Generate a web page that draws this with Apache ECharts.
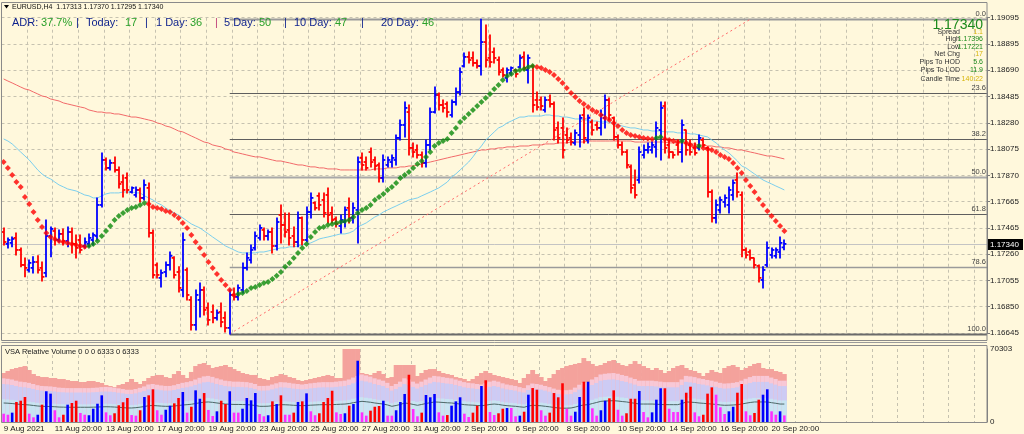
<!DOCTYPE html>
<html><head><meta charset="utf-8">
<script src="https://cdn.jsdelivr.net/npm/echarts@6.0.0/dist/echarts.min.js"></script>
<style>html,body{margin:0;padding:0;background:#FFF8DC;}#c{width:1024px;height:434px;}</style>
</head><body><div id="c"></div>
<script>
// ---------------- DATA ----------------
const xTickLabels = ['9 Aug 2021','11 Aug 20:00','13 Aug 20:00','17 Aug 20:00','19 Aug 20:00','23 Aug 20:00','25 Aug 20:00','27 Aug 20:00','31 Aug 20:00','2 Sep 20:00','6 Sep 20:00','8 Sep 20:00','10 Sep 20:00','14 Sep 20:00','16 Sep 20:00','20 Sep 20:00'];
const yTickLabels = ['1.16645','1.16850','1.17055','1.17260','1.17465','1.17665','1.17870','1.18075','1.18280','1.18485','1.18690','1.18895','1.19095'];

const opens = [
1.17433,1.17340,1.17348,1.17387,1.17293,1.17176,1.17137,1.17153,1.17199,1.17153,
1.17114,1.17402,1.17441,1.17371,1.17418,1.17363,1.17433,1.17340,1.17371,1.17324,
1.17340,1.17371,1.17402,1.17644,1.17995,1.17933,1.17972,1.17917,1.17823,1.17855,
1.17745,1.17722,1.17761,1.17699,1.17777,1.17426,1.17176,1.17075,1.17121,1.17176,
1.17231,1.17121,1.16981,1.17137,1.16903,1.16708,1.16903,1.16981,1.16841,1.16809,
1.16763,1.16809,1.16763,1.16685,1.16942,1.16927,1.16981,1.17153,1.17215,1.17309,
1.17387,1.17449,1.17402,1.17433,1.17324,1.17566,1.17488,1.17449,1.17402,1.17355,
1.17543,1.17371,1.17589,1.17660,1.17715,1.17683,1.17722,1.17582,1.17535,1.17480,
1.17511,1.17621,1.17543,1.17605,1.18011,1.17979,1.18057,1.17995,1.17956,1.17855,
1.17956,1.17979,1.17995,1.18167,1.18268,1.18369,1.18089,1.18073,1.18034,1.17972,
1.18112,1.18369,1.18502,1.18424,1.18432,1.18346,1.18447,1.18525,1.18728,1.18799,
1.18791,1.18752,1.18728,1.18915,1.18791,1.18837,1.18775,1.18697,1.18635,1.18674,
1.18697,1.18720,1.18799,1.18697,1.18728,1.18463,1.18463,1.18385,1.18463,1.18432,
1.18245,1.18245,1.18190,1.18167,1.18128,1.18190,1.18346,1.18151,1.18291,1.18268,
1.18245,1.18323,1.18463,1.18323,1.18175,1.18112,1.18057,1.17941,1.17800,1.17839,
1.18034,1.18073,1.18073,1.18097,1.18229,1.18416,1.18112,1.18057,1.18112,1.18057,
1.18229,1.18112,1.18089,1.18089,1.18151,1.18089,1.17745,1.17543,1.17605,1.17667,
1.17644,1.17722,1.17839,1.17722,1.17293,1.17277,1.17231,1.17168,1.17059,1.17176,
1.17254,1.17247,1.17277,1.17313];
const highs = [
1.17465,1.17387,1.17394,1.17426,1.17309,1.17231,1.17215,1.17239,1.17247,1.17199,
1.17527,1.17472,1.17465,1.17449,1.17457,1.17472,1.17465,1.17410,1.17410,1.17387,
1.17418,1.17426,1.17699,1.18050,1.18011,1.17995,1.18019,1.17941,1.17878,1.17894,
1.17785,1.17785,1.17777,1.17839,1.17816,1.17449,1.17192,1.17137,1.17199,1.17277,
1.17239,1.17161,1.17426,1.17153,1.16927,1.16981,1.17036,1.17004,1.16880,1.16864,
1.16825,1.16880,1.16809,1.16981,1.16997,1.17020,1.17192,1.17270,1.17332,1.17433,
1.17488,1.17465,1.17449,1.17465,1.17543,1.17644,1.17582,1.17582,1.17472,1.17589,
1.17550,1.17629,1.17738,1.17667,1.17738,1.17738,1.17777,1.17629,1.17550,1.17566,
1.17629,1.17699,1.17660,1.18019,1.18050,1.18019,1.18089,1.18019,1.17972,1.18034,
1.18019,1.18034,1.18190,1.18307,1.18447,1.18424,1.18128,1.18112,1.18057,1.18151,
1.18401,1.18564,1.18518,1.18463,1.18447,1.18463,1.18557,1.18713,1.18830,1.18837,
1.18837,1.18775,1.19093,1.19048,1.18970,1.18869,1.18799,1.18713,1.18713,1.18720,
1.18697,1.18814,1.18837,1.18814,1.18736,1.18525,1.18487,1.18487,1.18502,1.18447,
1.18291,1.18323,1.18245,1.18206,1.18229,1.18346,1.18401,1.18346,1.18307,1.18291,
1.18385,1.18502,1.18479,1.18330,1.18190,1.18135,1.18073,1.17956,1.17917,1.18097,
1.18112,1.18128,1.18135,1.18291,1.18447,1.18447,1.18151,1.18057,1.18151,1.18307,
1.18229,1.18151,1.18128,1.18190,1.18167,1.18097,1.17761,1.17683,1.17707,1.17722,
1.17785,1.17839,1.17894,1.17745,1.17309,1.17293,1.17231,1.17176,1.17161,1.17355,
1.17309,1.17309,1.17394,1.17370];
const lows = [
1.17332,1.17309,1.17317,1.17254,1.17161,1.17083,1.17121,1.17114,1.17114,1.17051,
1.17083,1.17239,1.17332,1.17355,1.17332,1.17317,1.17270,1.17231,1.17270,1.17309,
1.17317,1.17332,1.17371,1.17629,1.17917,1.17917,1.17901,1.17777,1.17707,1.17738,
1.17738,1.17707,1.17667,1.17683,1.17394,1.17075,1.17075,1.17004,1.17083,1.17137,
1.17075,1.16965,1.16927,1.16903,1.16669,1.16669,1.16770,1.16786,1.16708,1.16724,
1.16747,1.16693,1.16653,1.16638,1.16903,1.16903,1.16958,1.17137,1.17192,1.17293,
1.17371,1.17371,1.17371,1.17270,1.17293,1.17348,1.17394,1.17332,1.17317,1.17317,
1.17332,1.17355,1.17543,1.17605,1.17605,1.17550,1.17504,1.17504,1.17472,1.17426,
1.17472,1.17504,1.17504,1.17348,1.17917,1.17917,1.17941,1.17917,1.17823,1.17823,
1.17941,1.17941,1.17956,1.18151,1.18175,1.18034,1.18019,1.18011,1.17941,1.17941,
1.18073,1.18362,1.18385,1.18369,1.18330,1.18330,1.18424,1.18502,1.18720,1.18752,
1.18728,1.18713,1.18658,1.18720,1.18720,1.18752,1.18658,1.18642,1.18603,1.18658,
1.18642,1.18713,1.18697,1.18596,1.18369,1.18385,1.18385,1.18369,1.18408,1.18151,
1.18128,1.18011,1.18128,1.18112,1.18112,1.18097,1.18128,1.18128,1.18190,1.18229,
1.18190,1.18245,1.18307,1.18151,1.18089,1.18034,1.17933,1.17738,1.17699,1.17816,
1.18011,1.18050,1.18050,1.18019,1.17995,1.18050,1.18011,1.18011,1.18034,1.17979,
1.18034,1.18034,1.18034,1.18073,1.18097,1.17707,1.17511,1.17504,1.17582,1.17629,
1.17582,1.17683,1.17707,1.17239,1.17231,1.17215,1.17153,1.17043,1.16997,1.17161,
1.17231,1.17231,1.17231,1.17295];
const closes = [
1.17355,1.17371,1.17379,1.17293,1.17176,1.17153,1.17192,1.17199,1.17137,1.17083,
1.17402,1.17457,1.17371,1.17418,1.17363,1.17433,1.17340,1.17309,1.17293,1.17355,
1.17387,1.17410,1.17644,1.17995,1.17933,1.17972,1.17917,1.17808,1.17761,1.17761,
1.17777,1.17761,1.17699,1.17800,1.17426,1.17098,1.17098,1.17114,1.17176,1.17247,
1.17098,1.16997,1.17371,1.16942,1.16708,1.16942,1.16981,1.16825,1.16747,1.16763,
1.16802,1.16731,1.16685,1.16942,1.16927,1.16997,1.17153,1.17231,1.17293,1.17402,
1.17465,1.17402,1.17433,1.17324,1.17511,1.17488,1.17433,1.17387,1.17355,1.17543,
1.17371,1.17589,1.17699,1.17621,1.17644,1.17582,1.17566,1.17527,1.17496,1.17527,
1.17605,1.17543,1.17621,1.17979,1.17956,1.17933,1.17979,1.17948,1.17855,1.17995,
1.17995,1.18011,1.18167,1.18268,1.18401,1.18089,1.18057,1.18034,1.17972,1.18112,
1.18369,1.18502,1.18424,1.18401,1.18369,1.18447,1.18525,1.18681,1.18799,1.18775,
1.18752,1.18728,1.18915,1.18775,1.18759,1.18791,1.18681,1.18658,1.18697,1.18713,
1.18666,1.18791,1.18713,1.18791,1.18424,1.18408,1.18416,1.18463,1.18432,1.18229,
1.18167,1.18073,1.18151,1.18135,1.18206,1.18323,1.18167,1.18323,1.18229,1.18245,
1.18346,1.18463,1.18346,1.18175,1.18112,1.18057,1.17956,1.17777,1.17722,1.18057,
1.18073,1.18097,1.18112,1.18245,1.18401,1.18089,1.18057,1.18034,1.18057,1.18268,
1.18073,1.18057,1.18050,1.18167,1.18112,1.17745,1.17543,1.17644,1.17683,1.17699,
1.17761,1.17816,1.17745,1.17293,1.17254,1.17231,1.17176,1.17075,1.17137,1.17309,
1.17293,1.17293,1.17348,1.17340];

// trend-colour dot indicator
const trendDots = [
1.17979,1.17933,1.17878,1.17823,1.17785,1.17707,1.17652,1.17589,1.17527,1.17472,
1.17426,1.17394,1.17379,1.17363,1.17355,1.17348,1.17340,1.17332,1.17324,1.17317,
1.17324,1.17340,1.17363,1.17402,1.17441,1.17480,1.17527,1.17558,1.17582,1.17605,
1.17621,1.17629,1.17644,1.17660,1.17652,1.17629,1.17621,1.17613,1.17597,1.17589,
1.17566,1.17543,1.17504,1.17465,1.17410,1.17355,1.17309,1.17254,1.17199,1.17153,
1.17106,1.17059,1.17020,1.16981,1.16942,1.16950,1.16958,1.16973,1.16997,1.17004,
1.17020,1.17036,1.17043,1.17067,1.17091,1.17121,1.17161,1.17192,1.17231,1.17270,
1.17309,1.17340,1.17394,1.17433,1.17465,1.17472,1.17488,1.17496,1.17504,1.17511,
1.17519,1.17527,1.17550,1.17582,1.17605,1.17621,1.17644,1.17683,1.17707,1.17730,
1.17761,1.17785,1.17816,1.17855,1.17878,1.17901,1.17933,1.17964,1.17987,1.18019,
1.18057,1.18104,1.18128,1.18143,1.18159,1.18206,1.18245,1.18291,1.18323,1.18354,
1.18385,1.18416,1.18447,1.18479,1.18510,1.18549,1.18580,1.18619,1.18650,1.18666,
1.18689,1.18697,1.18705,1.18720,1.18728,1.18720,1.18713,1.18697,1.18681,1.18658,
1.18627,1.18596,1.18557,1.18518,1.18487,1.18455,1.18432,1.18408,1.18385,1.18369,
1.18346,1.18323,1.18307,1.18284,1.18260,1.18229,1.18206,1.18190,1.18182,1.18175,
1.18167,1.18163,1.18159,1.18167,1.18175,1.18159,1.18151,1.18143,1.18135,1.18143,
1.18128,1.18112,1.18097,1.18104,1.18089,1.18081,1.18073,1.18057,1.18034,1.18019,
1.18003,1.17972,1.17933,1.17894,1.17839,1.17792,1.17745,1.17691,1.17644,1.17597,
1.17558,1.17519,1.17480,1.17441];

const maFast = [
1.18159,1.18143,1.18120,1.18089,1.18057,1.18026,1.17995,1.17956,1.17917,1.17886,
1.17862,1.17847,1.17823,1.17800,1.17785,1.17769,1.17761,1.17753,1.17738,1.17722,
1.17715,1.17699,1.17699,1.17715,1.17730,1.17738,1.17738,1.17738,1.17745,1.17745,
1.17745,1.17738,1.17738,1.17715,1.17699,1.17683,1.17660,1.17644,1.17621,1.17597,
1.17582,1.17566,1.17543,1.17519,1.17496,1.17480,1.17465,1.17441,1.17418,1.17394,
1.17371,1.17348,1.17324,1.17309,1.17293,1.17277,1.17270,1.17270,1.17270,1.17270,
1.17277,1.17277,1.17285,1.17293,1.17301,1.17309,1.17309,1.17317,1.17317,1.17324,
1.17332,1.17340,1.17348,1.17363,1.17379,1.17387,1.17394,1.17402,1.17410,1.17418,
1.17418,1.17426,1.17441,1.17472,1.17488,1.17504,1.17527,1.17550,1.17566,1.17589,
1.17605,1.17621,1.17636,1.17652,1.17667,1.17683,1.17691,1.17699,1.17715,1.17730,
1.17745,1.17761,1.17777,1.17800,1.17823,1.17862,1.17886,1.17917,1.17948,1.17979,
1.18019,1.18065,1.18104,1.18151,1.18182,1.18214,1.18245,1.18260,1.18284,1.18299,
1.18315,1.18330,1.18330,1.18338,1.18338,1.18338,1.18338,1.18346,1.18346,1.18338,
1.18338,1.18330,1.18330,1.18323,1.18315,1.18315,1.18307,1.18307,1.18299,1.18299,
1.18291,1.18291,1.18291,1.18276,1.18268,1.18260,1.18252,1.18245,1.18245,1.18237,
1.18229,1.18229,1.18221,1.18221,1.18221,1.18214,1.18214,1.18214,1.18206,1.18206,
1.18206,1.18198,1.18198,1.18190,1.18182,1.18175,1.18151,1.18128,1.18097,1.18073,
1.18050,1.18019,1.17987,1.17948,1.17933,1.17909,1.17886,1.17862,1.17839,1.17823,
1.17808,1.17792,1.17777,1.17761];
const maSlow = [
1.18627,1.18611,1.18596,1.18580,1.18564,1.18549,1.18541,1.18525,1.18510,1.18494,
1.18487,1.18471,1.18463,1.18455,1.18440,1.18432,1.18424,1.18416,1.18408,1.18401,
1.18385,1.18377,1.18369,1.18369,1.18362,1.18362,1.18354,1.18354,1.18346,1.18338,
1.18330,1.18330,1.18323,1.18315,1.18307,1.18299,1.18284,1.18276,1.18260,1.18252,
1.18237,1.18221,1.18214,1.18198,1.18182,1.18167,1.18151,1.18135,1.18128,1.18112,
1.18104,1.18097,1.18081,1.18073,1.18057,1.18050,1.18042,1.18034,1.18026,1.18019,
1.18019,1.18011,1.18003,1.17995,1.17987,1.17987,1.17979,1.17972,1.17964,1.17956,
1.17956,1.17948,1.17941,1.17941,1.17933,1.17933,1.17925,1.17925,1.17925,1.17917,
1.17917,1.17917,1.17917,1.17917,1.17917,1.17917,1.17917,1.17925,1.17925,1.17925,
1.17933,1.17933,1.17933,1.17941,1.17941,1.17948,1.17948,1.17956,1.17964,1.17972,
1.17979,1.17987,1.17995,1.18003,1.18011,1.18019,1.18026,1.18034,1.18042,1.18050,
1.18057,1.18065,1.18073,1.18073,1.18081,1.18081,1.18089,1.18089,1.18097,1.18097,
1.18097,1.18104,1.18104,1.18104,1.18112,1.18112,1.18112,1.18120,1.18120,1.18120,
1.18128,1.18128,1.18128,1.18135,1.18135,1.18135,1.18135,1.18143,1.18143,1.18143,
1.18143,1.18143,1.18143,1.18143,1.18143,1.18143,1.18143,1.18143,1.18135,1.18135,
1.18135,1.18135,1.18135,1.18135,1.18135,1.18135,1.18128,1.18128,1.18128,1.18128,
1.18128,1.18120,1.18120,1.18112,1.18112,1.18104,1.18104,1.18097,1.18097,1.18089,
1.18089,1.18081,1.18073,1.18073,1.18065,1.18057,1.18050,1.18042,1.18034,1.18026,
1.18026,1.18019,1.18011,1.18003];

// Fibonacci retracement (drawn from the 20 Aug low bar)
const fibStartBar = 53;
const fibLevels = [1.19093, 1.18514, 1.18157, 1.17866, 1.17575, 1.17163, 1.16638];
const fibLabels = ['0.0', '23.6', '38.2', '50.0', '61.8', '78.6', '100.0'];
const fibTrendLine = [[53, 1.16638], [175, 1.19093]];
const lastPrice = 1.17340;

// VSA relative volume panel
const volumes = [
8000,7000,9000,19300,20500,24100,8000,4500,7000,16700,
29600,27300,11300,4500,7000,16700,18300,20500,8700,7000,
6500,12800,17600,25700,9300,6500,8400,16100,19000,23100,
6700,6100,11300,24100,25700,31500,11300,7000,11800,15700,
18000,23100,28900,9000,14700,30500,22400,27900,11600,5800,
10300,20500,17300,29600,9000,9000,12800,23100,20900,27900,
7700,5500,6500,19900,17300,25700,7000,7000,9000,19300,
19900,27600,10300,6500,8400,19300,23100,30100,9300,7700,
8400,15700,17300,59000,9300,6100,10900,14700,15400,20500,
6100,6100,11300,19300,27000,45500,12500,5500,9000,26000,
23800,27000,9300,6100,6700,15700,19900,23800,8000,4800,
9000,15700,34700,40200,9600,6700,8400,12800,13500,13500,
5500,6100,9900,26300,32700,31100,11300,6100,9000,27900,
23800,37300,12800,6100,9900,24100,38800,38800,13200,6100,
11300,20500,22800,30500,11800,6100,8400,22400,22400,29900,
9600,4500,9300,21500,32500,32500,12800,9600,9600,21500,
28200,34000,9300,5500,7000,27300,33400,26300,14200,7700,
10300,14700,28200,36600,10300,6500,8700,21500,26300,31500,
10300,7000,10300,6333];
const volColorCodes = 'mmbrrrmmbrbbmmrbrrmmbbbbmmrrrrmmrbrrmmbbrrbmrbbrmmbrrbmmbbbbmmbrbrmmrbrbmmrrrrmmbrbbmmrrrbmmbbbrmmrbbbmmrbbbmmrrbrmmrrbmmbrbrrmmrrrrmmbbrbmmbbrrmmrrrbmmbbbrmmmbrrmmrrrmmmbbrrmmrrbbmmbm';
const volAvg = [
18300,18100,17800,17300,16900,16700,16400,15900,15400,15100,
15000,14900,14700,14400,14300,14200,14200,14200,14200,14200,
14200,14300,14400,14600,14700,14600,14400,14100,13800,13500,
13500,13800,14300,14900,15700,15900,15600,15300,15100,15100,
15400,15900,16400,16700,17100,17800,18500,19100,19300,18900,
18300,17800,17300,17100,16900,16900,16800,16700,16400,15900,
15100,15100,15200,15700,16200,16700,16600,16400,16100,15900,
15700,15900,16200,16400,16600,16700,16700,16700,16900,17100,
17300,17800,18600,19300,19900,19500,19000,18300,17800,17300,
16400,15100,15900,16900,18300,17800,16900,16100,16900,17800,
18600,19300,19100,18800,18500,18300,17800,17300,16700,16400,
16200,15900,15700,16200,16900,17300,16900,16200,15700,15400,
15100,14600,14200,15400,16100,15900,15600,15100,14600,14000,
13500,13300,13300,13500,14400,15600,16400,16700,17800,18800,
19900,20200,20400,20500,20200,19700,19300,18600,18000,17300,
17300,17300,17300,17100,16900,16700,16700,16700,16700,17800,
19300,19100,18800,18300,18000,17600,17300,16900,16400,16100,
16200,16400,16700,17300,18100,18800,19300,19300,19300,19300,
18600,18000,17300,17300];
const volUpperBand = [
47200,49100,51000,52000,53000,53900,50100,46200,44300,43300,
43300,42400,42400,41400,41400,40400,39500,39500,38500,38500,
39500,39500,38500,37600,35600,34700,33700,35600,36600,38500,
41400,38500,36600,39500,42400,44300,45300,45300,43300,42400,
46200,49100,45300,42400,48200,53900,55900,56800,54900,52000,
53000,53900,54900,53000,51000,49100,47200,46200,45300,45300,
42400,41400,40400,43300,44300,46200,45300,43300,42400,40400,
39500,40400,41400,42400,43300,44300,45300,44300,42400,42400,
70303,70303,70303,70303,47200,46200,45300,47200,49100,46200,
42400,43300,54900,54900,54900,54900,54900,44300,47200,50100,
51000,51000,49100,47200,46200,45300,43300,42400,41400,39500,
41400,44300,47200,49100,47200,45300,44300,43300,42400,41400,
40400,37600,42400,46200,50100,46200,43300,39500,42400,46200,
50100,52000,53900,54900,55900,56800,61600,58700,55900,53900,
54900,56800,58700,59700,56800,54900,53900,55900,58700,55900,
53900,52000,50100,52000,50100,47200,49100,52000,53900,54900,
52000,50100,49100,47200,44300,47200,50100,48200,47200,52000,
53900,54900,53000,50100,52000,53900,55900,56800,52000,51000,
51000,49100,48200,46200];
const bandMultipliers = {pink: 2.3, lavender: 2.0, cyan: 1.2};
const volMax = 70303;

// ---------------- CHART ----------------
const TOTAL_SLOTS = 231;
const slots = Array.from({length: TOTAL_SLOTS}, (_, i) => String(i));
const FONT = '"Liberation Sans", Arial, sans-serif';
const NAVY = '#0b1f8c', GRN = '#2aa02a', GOLD = '#d6b40a', DGRN = '#1c8a1c';
const UP = '#0000ff', DN = '#ff0000';
const GRIDC = '#c6c2b0';

const chart = echarts.init(document.getElementById('c'), null, {renderer: 'canvas'});

const ohlcData = opens.map((o, i) => [i, o, highs[i], lows[i], closes[i]]);
const dotData = trendDots.map((v, i) => [i, v]);
const bandData = volUpperBand.map((b, i) => [i, b, volAvg[i]]);
const volData = volumes.map((v, i) => [i, v, 'brm'.indexOf(volColorCodes[i])]);

function txt(x, y, text, fill, size, align, extra) {
  return Object.assign({type: 'text', z: 100, silent: true,
    style: {x: x, y: y, text: text, fill: fill, font: size + 'px ' + FONT,
      textAlign: align || 'left', textVerticalAlign: 'middle', align: align || 'left', verticalAlign: 'middle'}}, extra || {});
}

const headerItems = [
  [12,'ADR:',NAVY],[41,'37.7%',GRN],[76,'|',NAVY],[86,'Today:',NAVY],[125,'17',GRN],[145,'|',NAVY],
  [156,'1 Day:',NAVY],[190,'36',GRN],[215,'|','#c0407a'],[224,'5 Day:',NAVY],[259,'50',GRN],[284,'|',NAVY],
  [294,'10 Day:',NAVY],[335,'47',GRN],[361,'|',NAVY],[381,'20 Day:',NAVY],[422,'46',GRN]
];
const infoRows = [
  ['Spread','1.1',GOLD,32],['High','1.17396',DGRN,39.5],['Low','1.17221',DGRN,47],['Net Chg','17',GOLD,54.5],
  ['Pips To HOD','5.6',DGRN,62],['Pips To LOD','11.9',DGRN,70.5],['Candle Time','140:22',GOLD,79.5]
];

const graphics = [
  {type:'rect', z: 90, silent: true, shape:{x:1.5,y:2.5,width:985.5,height:338}, style:{fill:'none',stroke:'#8a8a8a',lineWidth:1}},
  {type:'line', z: 90, silent: true, shape:{x1:1.5,y1:342.5,x2:987,y2:342.5}, style:{stroke:'#9a9a9a',lineWidth:1}},
  {type:'rect', z: 90, silent: true, shape:{x:1.5,y:345.5,width:985.5,height:77}, style:{fill:'none',stroke:'#8a8a8a',lineWidth:1}},
  {type:'polygon', z: 100, silent: true, shape:{points:[[4,5],[9,5],[6.5,8.5]]}, style:{fill:'#000'}},
  txt(12, 7, 'EURUSD,H4  1.17313 1.17370 1.17295 1.17340', '#111', 7),
  txt(983, 25, '1.17340', DGRN, 14, 'right'),
  txt(5, 352, 'VSA Relative Volume 0 0 0 6333 0 6333', '#222', 7.5)
];
headerItems.forEach(h => graphics.push(txt(h[0], 22.5, h[1], h[2], 11)));
infoRows.forEach(r => {
  graphics.push(txt(960, r[3], r[0], '#333', 7, 'right'));
  graphics.push(txt(983, r[3], r[1], r[2], 7, 'right'));
});

const fibStyles = [
  {c:'#9a9a9a', w:2}, {c:'#5e5e5e', w:1}, {c:'#5e5e5e', w:1}, {c:'#a8a8a8', w:2},
  {c:'#5e5e5e', w:1}, {c:'#9a9a9a', w:1.5}, {c:'#6a6a6a', w:2}
];

const option = {
  animation: false,
  backgroundColor: '#FFF8DC',
  textStyle: {fontFamily: FONT},
  grid: [
    {left: 1.5, right: 37, top: 17.7, height: 315.3},
    {left: 1.5, right: 37, top: 349, height: 73}
  ],
  xAxis: [
    {type:'category', gridIndex:0, data: slots, boundaryGap: true,
      axisLine:{show:false}, axisTick:{show:false}, axisLabel:{show:false},
      splitLine:{show:true, interval:5, lineStyle:{color:GRIDC, type:[3,3], width:1}}},
    {type:'category', gridIndex:1, data: slots, boundaryGap: true,
      axisLine:{show:false}, axisTick:{show:false},
      axisLabel:{show:true, interval:11, align:'left', margin:3, fontSize:8, color:'#222',
        formatter: (v, idx) => (idx % 12 === 0 && xTickLabels[idx / 12]) ? xTickLabels[idx / 12] : ''},
      splitLine:{show:true, interval:5, lineStyle:{color:GRIDC, type:[3,3], width:1}}}
  ],
  yAxis: [
    {type:'value', gridIndex:0, position:'right', min:1.16645, max:1.19105, interval:0.00205, scale:true,
      axisLine:{show:true, lineStyle:{color:'#7a7a7a'}}, axisTick:{show:true, length:3, lineStyle:{color:'#7a7a7a'}},
      axisLabel:{fontSize:8, color:'#222', margin:3,
        formatter: v => yTickLabels[Math.round((v - 1.16645) / 0.00205)] || ''},
      splitLine:{show:true, lineStyle:{color:GRIDC, type:[3,3], width:1}}},
    {type:'value', gridIndex:1, position:'right', min:0, max:volMax, interval:volMax,
      axisLine:{show:true, lineStyle:{color:'#7a7a7a'}}, axisTick:{show:false},
      axisLabel:{fontSize:8, color:'#222', margin:3, formatter: v => v === 0 ? '0' : String(volMax)},
      splitLine:{show:false}}
  ],
  graphic: graphics,
  series: [
    { // bid line + price tag
      type:'custom', xAxisIndex:0, yAxisIndex:0, z:1, silent:true, clip:false,
      data:[[183, lastPrice]],
      renderItem: (params, api) => {
        const p = api.coord([api.value(0), api.value(1)]);
        const cs = params.coordSys;
        const y = Math.round(p[1]) + 0.5;
        const r = cs.x + cs.width;
        return {type:'group', children:[
          {type:'line', shape:{x1:cs.x, y1:y, x2:r, y2:y}, style:{stroke:'#c4c4c4', lineWidth:1}},
          {type:'rect', z2: 50, shape:{x:r + 1, y:y - 5.5, width:35, height:11}, style:{fill:'#000'}},
          {type:'text', z2: 51, style:{x:r + 3, y:y, text:'1.17340', fill:'#fff', font:'8px ' + FONT,
            textAlign:'left', textVerticalAlign:'middle', align:'left', verticalAlign:'middle'}}
        ]};
      }
    },
    { // fibonacci levels
      type:'custom', xAxisIndex:0, yAxisIndex:0, z:1, silent:true, clip:false,
      data: fibLevels.map(v => [fibStartBar, v]),
      renderItem: (params, api) => {
        const k = params.dataIndex;
        const p = api.coord([api.value(0), api.value(1)]);
        const cs = params.coordSys;
        const r = cs.x + cs.width;
        const y = Math.round(p[1]) + 0.5;
        const st = fibStyles[k];
        return {type:'group', children:[
          {type:'line', shape:{x1:p[0], y1:y, x2:r, y2:y}, style:{stroke:st.c, lineWidth:st.w}},
          {type:'text', style:{x:r - 1, y:y - 1.5, text:fibLabels[k], fill:'#444', font:'7.5px ' + FONT,
            textAlign:'right', textVerticalAlign:'bottom', align:'right', verticalAlign:'bottom'}}
        ]};
      }
    },
    { type:'line', xAxisIndex:0, yAxisIndex:0, z:2, data: fibTrendLine, symbol:'none', silent:true, clip:false,
      lineStyle:{color:'#ff6a6a', width:1, type:[2,3]} },
    { type:'line', xAxisIndex:0, yAxisIndex:0, z:2, data: maSlow, symbol:'none', silent:true,
      lineStyle:{color:'#f26a6a', width:1} },
    { type:'line', xAxisIndex:0, yAxisIndex:0, z:2, data: maFast, symbol:'none', silent:true,
      lineStyle:{color:'#7ccfee', width:1} },
    { // OHLC bars
      type:'custom', xAxisIndex:0, yAxisIndex:0, z:3, silent:true,
      data: ohlcData, encode:{x:0, y:[1,2,3,4]},
      renderItem: (params, api) => {
        const i = api.value(0);
        const o = api.coord([i, api.value(1)]);
        const h = api.coord([i, api.value(2)]);
        const l = api.coord([i, api.value(3)]);
        const c = api.coord([i, api.value(4)]);
        const col = api.value(4) >= api.value(1) ? UP : DN;
        const x = Math.round(o[0]);
        const st = {stroke: col, lineWidth: 1.8};
        return {type:'group', children:[
          {type:'line', shape:{x1:x, y1:h[1] - 0.5, x2:x, y2:l[1] + 0.5}, style:st},
          {type:'line', shape:{x1:x - 2.4, y1:o[1], x2:x, y2:o[1]}, style:st},
          {type:'line', shape:{x1:x, y1:c[1], x2:x + 2.4, y2:c[1]}, style:st}
        ]};
      }
    },
    { type:'scatter', xAxisIndex:0, yAxisIndex:0, z:4, silent:true, data: dotData,
      symbol:'diamond', symbolSize:[6,6],
      itemStyle:{color: p => (p.dataIndex > 0 && trendDots[p.dataIndex] > trendDots[p.dataIndex - 1]) ? '#0b8a0b' : '#ff0000'} },
    { // volume bands
      type:'custom', xAxisIndex:1, yAxisIndex:1, z:1, silent:true, data: bandData,
      renderItem: (params, api) => {
        const i = api.value(0);
        const w = api.size([1, 0])[0] + 0.6;
        const base = api.coord([i, 0]);
        const x0 = base[0] - w / 2;
        const avg = api.value(2);
        const top = api.value(1);
        const mk = (v, fill) => {
          const y = api.coord([i, Math.min(v, top)])[1];
          return {type:'rect', shape:{x:x0, y:y, width:w, height:base[1] - y}, style:{fill:fill}};
        };
        return {type:'group', children:[
          mk(top, '#f4a29c'),
          mk(avg * bandMultipliers.pink, '#f8c8d6'),
          mk(avg * bandMultipliers.lavender, '#cdcbf4'),
          mk(avg * bandMultipliers.cyan, '#c8e4f2')
        ]};
      }
    },
    { type:'line', xAxisIndex:1, yAxisIndex:1, z:2, data: volAvg, symbol:'none', silent:true,
      lineStyle:{color:'#4d6868', width:1} },
    { // volume bars
      type:'custom', xAxisIndex:1, yAxisIndex:1, z:3, silent:true, data: volData,
      renderItem: (params, api) => {
        const i = api.value(0);
        const base = api.coord([i, 0]);
        const t = api.coord([i, api.value(1)]);
        const cols = [UP, DN, '#ff2eff'];
        return {type:'rect', shape:{x:base[0] - 1.3, y:t[1], width:2.6, height:base[1] - t[1]},
          style:{fill: cols[api.value(2)]}};
      }
    }
  ]
};
chart.setOption(option);
</script></body></html>
